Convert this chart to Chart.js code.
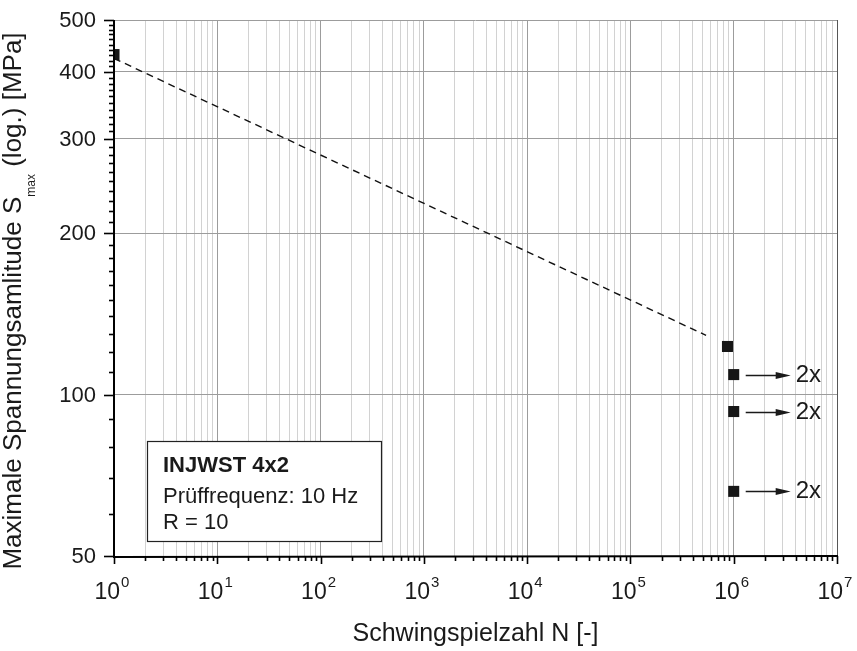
<!DOCTYPE html>
<html>
<head>
<meta charset="utf-8">
<script src="https://cdn.jsdelivr.net/npm/chart.js@4.4.1/dist/chart.umd.min.js"></script>
<style>
  html, body { margin: 0; padding: 0; background: #fff; }
  #wrap { position: relative; width: 857px; height: 651px; }
</style>
</head>
<body>
<div id="wrap"><canvas id="chart" width="857" height="651"></canvas></div>
<script>
// ==========================================
// DATEN (Wöhlerversuch INJWST 4x2)
// ==========================================
const cycles = [1, 8.7e5, 1e6, 1e6, 1e6];
const stress = [431, 123, 109, 93, 66];
const runouts = [0, 0, 2, 2, 2];          // Durchläufer -> Pfeil mit "2x"

// gestrichelte Wöhlerlinie
const fitCycles = [1, 5.4e5];
const fitStress = [424, 129];

// Achsen
const xTickValues = [];
for (let e = 0; e < 7; e++) {
    for (let m = 1; m < 10; m++) xTickValues.push(m * Math.pow(10, e));
}
xTickValues.push(1e7);
const xDecades = [0, 1, 2, 3, 4, 5, 6, 7];
const yTickValues = [];
for (let v = 50; v <= 500; v += 10) yTickValues.push(v);
const yLabels = [50, 100, 200, 300, 400, 500];

const legendLines = ['INJWST 4x2', 'Prüffrequenz: 10 Hz', 'R = 10'];
const xTitle = 'Schwingspielzahl N [-]';
const yTitleParts = ['Maximale Spannungsamlitude S', 'max', ' (log.) [MPa]'];

const FONT = '"Liberation Sans", Arial, Helvetica, sans-serif';

function isDecade(v) {
    const l = Math.log10(v);
    return Math.abs(l - Math.round(l)) < 1e-9;
}

// ==========================================
// ACHSEN, BESCHRIFTUNG, LEGENDE, PFEILE
// ==========================================
const decoPlugin = {
    id: 'deco',
    afterDraw(chart) {
        const ctx = chart.ctx;
        const xs = chart.scales.x, ys = chart.scales.y;
        const a = chart.chartArea;
        ctx.save();

        // Achsenlinien
        ctx.strokeStyle = '#000';
        ctx.lineWidth = 2;
        ctx.beginPath();
        ctx.moveTo(a.left, a.top);
        ctx.lineTo(a.left, a.bottom + 1);
        ctx.lineTo(a.right + 1, a.bottom);
        ctx.stroke();

        // Ticks y
        ctx.lineWidth = 1.6;
        yTickValues.forEach(v => {
            const y = Math.round(ys.getPixelForValue(v)) + 0.5;
            const len = yLabels.includes(v) ? 10 : 5;
            ctx.beginPath();
            ctx.moveTo(a.left, y);
            ctx.lineTo(a.left - len, y);
            ctx.stroke();
        });
        // Ticks x
        xTickValues.forEach(v => {
            const x = Math.round(xs.getPixelForValue(v)) + 0.5;
            const len = isDecade(v) ? 8 : 5;
            ctx.beginPath();
            ctx.moveTo(x, a.bottom);
            ctx.lineTo(x, a.bottom + len);
            ctx.stroke();
        });

        ctx.fillStyle = '#1a1a1a';
        // Beschriftung y
        ctx.font = '22px ' + FONT;
        ctx.textAlign = 'right';
        ctx.textBaseline = 'middle';
        yLabels.forEach(v => {
            ctx.fillText(String(v), a.left - 18, ys.getPixelForValue(v) + 1);
        });

        // Beschriftung x: 10^n
        ctx.textAlign = 'left';
        ctx.textBaseline = 'alphabetic';
        xDecades.forEach(e => {
            const px = xs.getPixelForValue(Math.pow(10, e));
            ctx.font = '23px ' + FONT;
            const wB = ctx.measureText('10').width;
            ctx.font = '15px ' + FONT;
            const wE = ctx.measureText(String(e)).width;
            const x0 = px - (wB + wE + 1) / 2 - 2;
            ctx.font = '23px ' + FONT;
            ctx.fillText('10', x0, a.bottom + 43);
            ctx.font = '15px ' + FONT;
            ctx.fillText(String(e), x0 + wB + 1, a.bottom + 31);
        });

        // Achsentitel x
        ctx.font = '25px ' + FONT;
        ctx.textAlign = 'center';
        ctx.fillText(xTitle, (a.left + a.right) / 2, 641);

        // Achsentitel y (mit Index "max")
        const big = '26px ' + FONT, small = '12px ' + FONT;
        ctx.font = big;
        const w0 = ctx.measureText(yTitleParts[0]).width;
        const w2 = ctx.measureText(yTitleParts[2]).width;
        ctx.font = small;
        const w1 = ctx.measureText(yTitleParts[1]).width;
        const total = w0 + w1 + w2;
        ctx.save();
        ctx.translate(21, 301);
        ctx.rotate(-Math.PI / 2);
        ctx.textAlign = 'left';
        let tx = -total / 2;
        ctx.font = big;
        ctx.fillText(yTitleParts[0], tx, 0);
        tx += w0;
        ctx.font = small;
        ctx.fillText(yTitleParts[1], tx, 14);
        tx += w1;
        ctx.font = big;
        ctx.fillText(yTitleParts[2], tx, 0);
        ctx.restore();

        // Legendenkasten
        ctx.fillStyle = '#fff';
        ctx.fillRect(147, 441, 234, 100);
        ctx.strokeStyle = '#222';
        ctx.lineWidth = 1.2;
        ctx.strokeRect(147.5, 441.5, 234, 100);
        ctx.fillStyle = '#1a1a1a';
        ctx.textAlign = 'left';
        ctx.font = 'bold 22px ' + FONT;
        ctx.fillText(legendLines[0], 163, 472);
        ctx.font = '22px ' + FONT;
        ctx.fillText(legendLines[1], 163, 503);
        ctx.fillText(legendLines[2], 163, 529);

        // Durchläufer-Pfeile
        ctx.strokeStyle = '#1a1a1a';
        ctx.lineWidth = 1.4;
        cycles.forEach((n, i) => {
            if (!runouts[i]) return;
            const px = xs.getPixelForValue(n);
            const py = Math.round(ys.getPixelForValue(stress[i])) + 0.5;
            const x1 = px + 12, x2 = px + 57;
            ctx.beginPath();
            ctx.moveTo(x1, py);
            ctx.lineTo(x2 - 12, py);
            ctx.stroke();
            ctx.beginPath();
            ctx.moveTo(x2, py);
            ctx.lineTo(x2 - 15, py - 3.5);
            ctx.lineTo(x2 - 15, py + 3.5);
            ctx.closePath();
            ctx.fill();
            ctx.font = '24px ' + FONT;
            ctx.textBaseline = 'middle';
            ctx.fillText(runouts[i] + 'x', px + 62, py);
            ctx.textBaseline = 'alphabetic';
        });

        ctx.restore();
    }
};

// ==========================================
// DIAGRAMM
// ==========================================
const ctx = document.getElementById('chart').getContext('2d');
new Chart(ctx, {
    type: 'scatter',
    data: {
        datasets: [
            {
                label: 'Wöhlerlinie',
                data: fitCycles.map((n, i) => ({ x: n, y: fitStress[i] })),
                showLine: true,
                borderColor: '#111',
                borderWidth: 1.4,
                borderDash: [7, 5],
                pointRadius: 0
            },
            {
                label: 'INJWST 4x2',
                data: cycles.map((n, i) => ({ x: n, y: stress[i] })),
                pointStyle: 'rect',
                pointRadius: 7.8,
                backgroundColor: '#161616',
                borderWidth: 0,
                clip: 0
            }
        ]
    },
    options: {
        responsive: false,
        animation: false,
        devicePixelRatio: 1,
        layout: { padding: { top: 20, right: 20, left: 0, bottom: 0 } },
        plugins: { legend: { display: false }, tooltip: { enabled: false } },
        scales: {
            x: {
                type: 'logarithmic',
                min: 1, max: 1e7,
                afterBuildTicks: s => { s.ticks = xTickValues.map(v => ({ value: v })); },
                afterFit: s => { s.height = 95; },
                ticks: { display: false },
                border: { display: false },
                grid: {
                    drawTicks: false,
                    lineWidth: 1,
                    color: c => {
                        const v = c.tick ? c.tick.value : 0;
                        if (v === 1) return 'rgba(0,0,0,0)';
                        if (v === 1e7) return '#555';
                        return isDecade(v) ? '#9c9c9c' : '#d2d2d2';
                    }
                }
            },
            y: {
                type: 'logarithmic',
                min: 50, max: 500,
                afterBuildTicks: s => { s.ticks = yTickValues.map(v => ({ value: v })); },
                afterFit: s => { s.width = 114; },
                ticks: { display: false },
                border: { display: false },
                grid: {
                    drawTicks: false,
                    lineWidth: 1,
                    color: c => {
                        const v = c.tick ? c.tick.value : 0;
                        return (yLabels.includes(v) && v !== 50) ? '#9c9c9c' : 'rgba(0,0,0,0)';
                    }
                }
            }
        }
    },
    plugins: [decoPlugin]
});
</script>
</body>
</html>
